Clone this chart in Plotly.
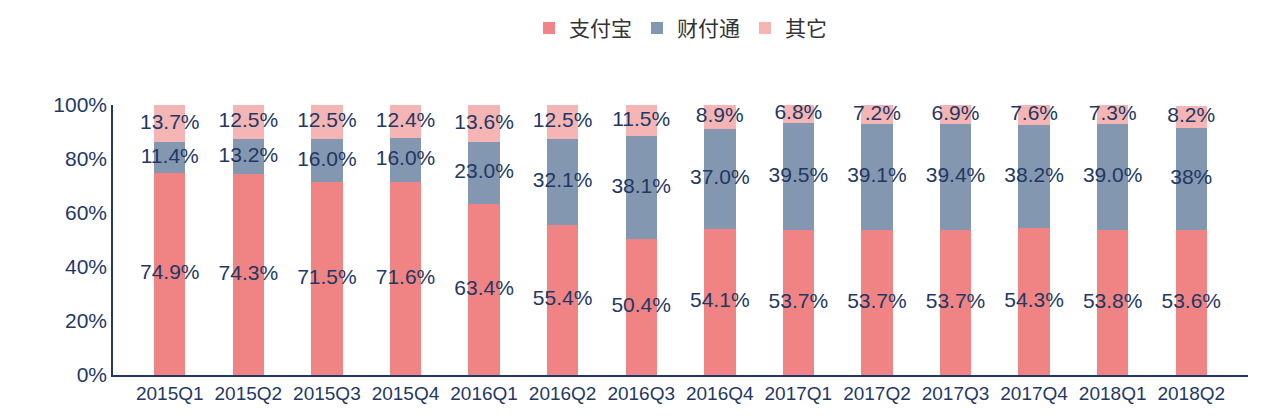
import plotly.graph_objects as go

quarters = ["2015Q1","2015Q2","2015Q3","2015Q4","2016Q1","2016Q2","2016Q3","2016Q4",
            "2017Q1","2017Q2","2017Q3","2017Q4","2018Q1","2018Q2"]
alipay = [74.9,74.3,71.5,71.6,63.4,55.4,50.4,54.1,53.7,53.7,53.7,54.3,53.8,53.6]
tenpay = [11.4,13.2,16.0,16.0,23.0,32.1,38.1,37.0,39.5,39.1,39.4,38.2,39.0,38.0]
other = [13.7,12.5,12.5,12.4,13.6,12.5,11.5,8.9,6.8,7.2,6.9,7.6,7.3,8.2]
tenpay_labels = ["11.4%","13.2%","16.0%","16.0%","23.0%","32.1%","38.1%","37.0%",
                 "39.5%","39.1%","39.4%","38.2%","39.0%","38%"]
y_ticks = [0, 20, 40, 60, 80, 100]
y_tick_labels = ["0%", "20%", "40%", "60%", "80%", "100%"]

names = ["支付宝","财付通","其它"]
colors = ["#F08383","#8497B0","#F5B5B5"]
navy = "#1F3864"

fig = go.Figure()
for n, v, c in zip(names, [alipay, tenpay, other], colors):
    fig.add_trace(go.Bar(x=quarters, y=v, name=n, marker_color=c, marker_line_width=0))

mid_a = [a/2 for a in alipay]
mid_t = [a + t/2 for a, t in zip(alipay, tenpay)]
mid_o = [a + t + o/2 for a, t, o in zip(alipay, tenpay, other)]
labs = [[f"{v:.1f}%" for v in alipay], tenpay_labels, [f"{v:.1f}%" for v in other]]
for mids, lab in zip([mid_a, mid_t, mid_o], labs):
    fig.add_trace(go.Scatter(x=quarters, y=mids, mode="text", text=lab, showlegend=False,
                             textfont=dict(size=21, color=navy, family="Liberation Sans"),
                             hoverinfo="skip"))

fig.update_layout(
    barmode="stack", bargap=0.6,
    width=1280, height=418,
    paper_bgcolor="white", plot_bgcolor="white",
    margin=dict(l=105, r=40, t=97, b=51, autoexpand=False),
    font=dict(family="Liberation Sans", color=navy),
    legend=dict(orientation="h", x=0.5, xanchor="center", y=1.36, yanchor="top",
                font=dict(size=21, color="#333333", family="Noto Sans CJK SC"),
                traceorder="normal"),
)
fig.update_yaxes(range=[0, 100], tickvals=y_ticks, ticktext=y_tick_labels,
                 tickfont=dict(size=21, color=navy), showgrid=False, showline=True,
                 linecolor=navy, linewidth=1.5, zeroline=False, ticks="")
fig.update_xaxes(tickfont=dict(size=19, color=navy), showline=True, linecolor=navy,
                 linewidth=1.5, tickangle=0)
fig.write_html("out.html")
